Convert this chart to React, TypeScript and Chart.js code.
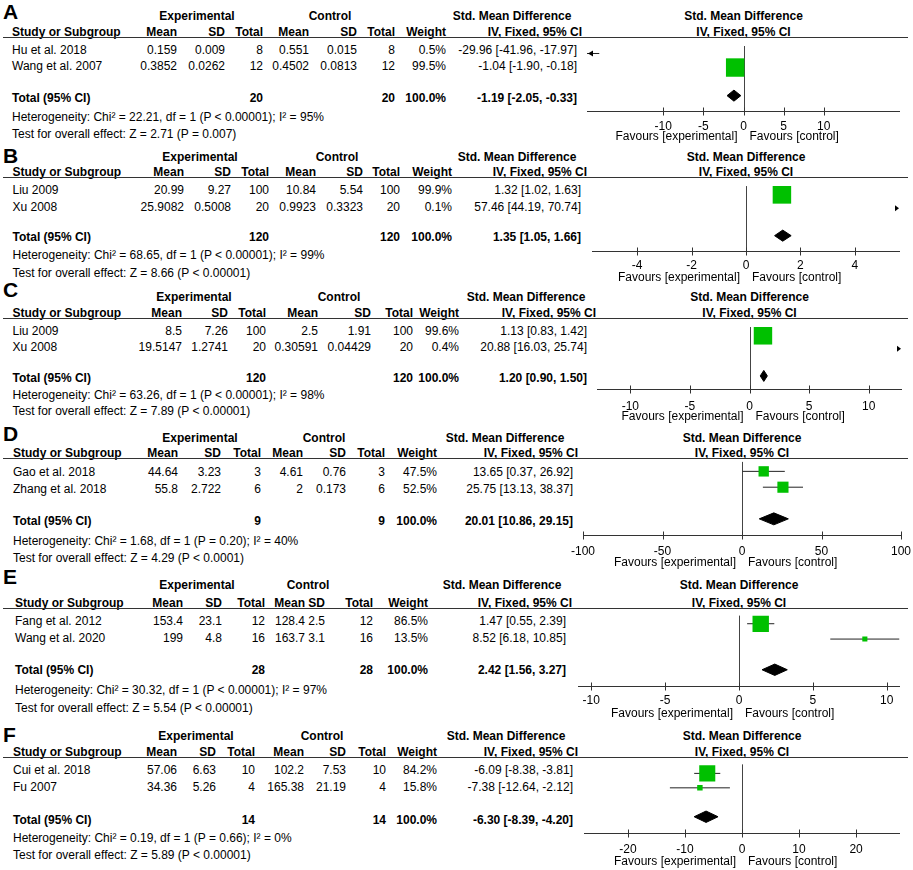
import React, { useEffect, useRef } from "react";
import { Chart, registerables } from "chart.js";
Chart.register(...registerables);

const FONT = '"Liberation Sans", Arial, Helvetica, sans-serif';
const W = 913;
const H = 870;
const GREEN = "#00c000";

// ---------------- DATA ----------------
const panelLetters = ["A", "B", "C", "D", "E", "F"];
const studyNames = [
  ["Hu et al. 2018", "Wang et al. 2007"],
  ["Liu 2009", "Xu 2008"],
  ["Liu 2009", "Xu 2008"],
  ["Gao et al. 2018", "Zhang et al. 2018"],
  ["Fang et al. 2012", "Wang et al. 2020"],
  ["Cui et al. 2018", "Fu 2007"],
];
const expMean = [["0.159", "0.3852"], ["20.99", "25.9082"], ["8.5", "19.5147"], ["44.64", "55.8"], ["153.4", "199"], ["57.06", "34.36"]];
const expSD = [["0.009", "0.0262"], ["9.27", "0.5008"], ["7.26", "1.2741"], ["3.23", "2.722"], ["23.1", "4.8"], ["6.63", "5.26"]];
const expN = [[8, 12], [100, 20], [100, 20], [3, 6], [12, 16], [10, 4]];
const ctlMean = [["0.551", "0.4502"], ["10.84", "0.9923"], ["2.5", "0.30591"], ["4.61", "2"], ["128.4", "163.7"], ["102.2", "165.38"]];
const ctlSD = [["0.015", "0.0813"], ["5.54", "0.3323"], ["1.91", "0.04429"], ["0.76", "0.173"], ["2.5", "3.1"], ["7.53", "21.19"]];
const ctlN = [[8, 12], [100, 20], [100, 20], [3, 6], [12, 16], [10, 4]];
const weights = [[0.5, 99.5], [99.9, 0.1], [99.6, 0.4], [47.5, 52.5], [86.5, 13.5], [84.2, 15.8]];
const smd = [[-29.96, -1.04], [1.32, 57.46], [1.13, 20.88], [13.65, 25.75], [1.47, 8.52], [-6.09, -7.38]];
const ciLow = [[-41.96, -1.9], [1.02, 44.19], [0.83, 16.03], [0.37, 13.13], [0.55, 6.18], [-8.38, -12.64]];
const ciHigh = [[-17.97, -0.18], [1.63, 70.74], [1.42, 25.74], [26.92, 38.37], [2.39, 10.85], [-3.81, -2.12]];
const totalSmd = [-1.19, 1.35, 1.2, 20.01, 2.42, -6.3];
const totalLow = [-2.05, 1.05, 0.9, 10.86, 1.56, -8.39];
const totalHigh = [-0.33, 1.66, 1.5, 29.15, 3.27, -4.2];
const heterogeneity = [
  "Heterogeneity: Chi² = 22.21, df = 1 (P < 0.00001); I² = 95%",
  "Heterogeneity: Chi² = 68.65, df = 1 (P < 0.00001); I² = 99%",
  "Heterogeneity: Chi² = 63.26, df = 1 (P < 0.00001); I² = 98%",
  "Heterogeneity: Chi² = 1.68, df = 1 (P = 0.20); I² = 40%",
  "Heterogeneity: Chi² = 30.32, df = 1 (P < 0.00001); I² = 97%",
  "Heterogeneity: Chi² = 0.19, df = 1 (P = 0.66); I² = 0%",
];
const overallEffect = [
  "Test for overall effect: Z = 2.71 (P = 0.007)",
  "Test for overall effect: Z = 8.66 (P < 0.00001)",
  "Test for overall effect: Z = 7.89 (P < 0.00001)",
  "Test for overall effect: Z = 4.29 (P < 0.0001)",
  "Test for overall effect: Z = 5.54 (P < 0.00001)",
  "Test for overall effect: Z = 5.89 (P < 0.00001)",
];
const axisLimit = [19.5, 5.66, 12.8, 100, 10.9, 27.7];
const axisTicks = [
  [-10, -5, 0, 5, 10],
  [-4, -2, 0, 2, 4],
  [-10, -5, 0, 5, 10],
  [-100, -50, 0, 50, 100],
  [-10, -5, 0, 5, 10],
  [-20, -10, 0, 10, 20],
];
const studyRows = [1, 2];
const totalRow = 4;

// ---------------- LAYOUT (pixel positions of each panel) ----------------
const LAYOUT = [
  { letter: 11, exp: 16, h2: 32, line: 37, r1: 50, r2: 66, tot: 97.5, het: 116.5, test: 133.5, axis: 111, tl: 123, fav: 137, m1: 45.5, mt: 93.5, left: 587, right: 900, sx: 12, cols: [177, 225, 263, 309, 357, 395, 446], ci: 577, iv: 582, expC: 197, ctlC: 330, smdC: 512 },
  { letter: 155.5, exp: 157, h2: 172, line: 177, r1: 189.5, r2: 206.7, tot: 237.3, het: 255, test: 273, axis: 251, tl: 262, fav: 278, m1: 186.5, mt: 233.5, left: 592, right: 900, sx: 12.5, cols: [184, 231, 269, 316, 363, 400, 452], ci: 581, iv: 587, expC: 200, ctlC: 337, smdC: 517 },
  { letter: 289.5, exp: 297, h2: 313, line: 318, r1: 331, r2: 347, tot: 378, het: 395, test: 411, axis: 389, tl: 403, fav: 417, m1: 327.5, mt: 374, left: 597, right: 902, sx: 12.5, cols: [182, 228, 266, 318, 371, 413, 459], ci: 587, iv: 596, expC: 194, ctlC: 339, smdC: 526 },
  { letter: 433.5, exp: 438, h2: 453, line: 458, r1: 472, r2: 489, tot: 521, het: 541, test: 558, axis: 535, tl: 548, fav: 563, m1: 468, mt: 518, left: 583, right: 901, sx: 13, cols: [178, 221, 261, 303, 346, 385, 437], ci: 573, iv: 578, expC: 200, ctlC: 324, smdC: 505 },
  { letter: 576.5, exp: 585, h2: 603, line: 608, r1: 621, r2: 638, tot: 670, het: 690, test: 708, axis: 686, tl: 697, fav: 714, m1: 617, mt: 668, left: 578, right: 900, sx: 15, cols: [183, 222, 265, 305, 325, 373, 428], ci: 566, iv: 572, expC: 197, ctlC: 308, smdC: 502 },
  { letter: 734.5, exp: 736, h2: 752, line: 757, r1: 770, r2: 787, tot: 820, het: 838, test: 855, axis: 833, tl: 846, fav: 862, m1: 767, mt: 815, left: 584, right: 900, sx: 13, cols: [177, 216, 255, 304, 346, 386, 437], ci: 573, iv: 578, expC: 196, ctlC: 322, smdC: 506 },
];

const PAD_X = 24;
const PAD_TOP = 4;
const AXIS_H = 36;

function fmt2(v: number) {
  return v.toFixed(2);
}
function ciText(e: number, l: number, h: number) {
  return `${fmt2(e)} [${fmt2(l)}, ${fmt2(h)}]`;
}
function squareSide(w: number) {
  return 3 + 0.155 * w;
}

function Txt({ x, y, text, align = "left", bold = false, size = 12 }: any) {
  const style: any = {
    position: "absolute",
    top: y - 0.4885 * size,
    fontFamily: FONT,
    fontSize: size,
    fontWeight: bold ? "bold" : "normal",
    lineHeight: `${size}px`,
    whiteSpace: "nowrap",
    color: "#000",
  };
  if (align === "left") style.left = x;
  else if (align === "right") style.right = W - x;
  else {
    style.left = x;
    style.transform = "translateX(-50%)";
  }
  return <div style={style}>{text}</div>;
}

const decorPlugin = {
  id: "forestDecor",
  beforeDatasetsDraw(chart: any) {
    const { ctx, chartArea, scales } = chart;
    const x0 = Math.round(scales.x.getPixelForValue(0)) + 0.5;
    ctx.save();
    ctx.strokeStyle = "#444";
    ctx.lineWidth = 1;
    ctx.beginPath();
    ctx.moveTo(x0, chartArea.top);
    ctx.lineTo(x0, chartArea.bottom);
    ctx.stroke();
    ctx.restore();
  },
  afterDraw(chart: any) {
    const { ctx, chartArea, scales } = chart;
    const opts = chart.options.plugins.forestDecor;
    const xs = scales.x;
    const ys = scales.y;
    ctx.save();
    const by = Math.round(chartArea.bottom) + 0.5;
    // axis line
    ctx.strokeStyle = "#333";
    ctx.lineWidth = 1;
    ctx.beginPath();
    ctx.moveTo(chartArea.left, by);
    ctx.lineTo(chartArea.right, by);
    ctx.stroke();
    // tick crosses
    xs.ticks.forEach((t: any) => {
      const px = Math.round(xs.getPixelForValue(t.value)) + 0.5;
      ctx.beginPath();
      ctx.moveTo(px, by - 4);
      ctx.lineTo(px, by + 4);
      ctx.stroke();
    });
    // off-scale arrowheads
    ctx.fillStyle = "#000";
    opts.lows.forEach((lo: number, j: number) => {
      const hi = opts.highs[j];
      const py = ys.getPixelForValue(opts.rows[j]);
      if (lo < xs.min) {
        const px = chartArea.left + 1;
        ctx.beginPath();
        ctx.moveTo(px, py);
        ctx.lineTo(px + 5, py - 3);
        ctx.lineTo(px + 5, py + 3);
        ctx.closePath();
        ctx.fill();
      }
      if (hi > xs.max) {
        const px = chartArea.right - 1;
        ctx.beginPath();
        ctx.moveTo(px, py);
        ctx.lineTo(px - 4, py - 3);
        ctx.lineTo(px - 4, py + 3);
        ctx.closePath();
        ctx.fill();
      }
    });
    // favours labels
    const x0 = xs.getPixelForValue(0);
    ctx.font = `12px ${FONT}`;
    ctx.fillStyle = "#000";
    ctx.textBaseline = "middle";
    const fy = chartArea.bottom + opts.favOffset;
    ctx.textAlign = "right";
    ctx.fillText("Favours [experimental]", x0 - 6, fy);
    ctx.textAlign = "left";
    ctx.fillText("Favours [control]", x0 + 6, fy);
    ctx.restore();
  },
};

function ForestPlot({ i }: { i: number }) {
  const ref = useRef<HTMLCanvasElement>(null);
  const L = LAYOUT[i];
  const width = L.right - L.left + 2 * PAD_X;
  const height = L.axis - L.line + PAD_TOP + AXIS_H;

  useEffect(() => {
    if (!ref.current) return;
    const k = (L.mt - L.m1) / (totalRow - studyRows[0]);
    const yMin = studyRows[0] - (L.m1 - L.line) / k;
    const yMax = yMin + (L.axis - L.line) / k;
    const lim = axisLimit[i];
    const dh = 6.3 / k;

    const datasets: any[] = [];
    // index 0 is drawn on top: study squares
    datasets.push({
      data: studyRows.map((row, j) => ({ x: smd[i][j], y: row })),
      showLine: false,
      pointStyle: "rect",
      pointRadius: weights[i].map((w) => squareSide(w) / Math.SQRT2),
      pointBackgroundColor: GREEN,
      pointBorderColor: GREEN,
      pointBorderWidth: 0,
    });
    // pooled diamond (upper and lower edges, filled between)
    datasets.push({
      data: [
        { x: totalLow[i], y: totalRow },
        { x: totalSmd[i], y: totalRow - dh },
        { x: totalHigh[i], y: totalRow },
      ],
      borderColor: "#000",
      borderWidth: 1,
      pointRadius: 0,
      tension: 0,
      fill: false,
    });
    datasets.push({
      data: [
        { x: totalLow[i], y: totalRow },
        { x: totalSmd[i], y: totalRow + dh },
        { x: totalHigh[i], y: totalRow },
      ],
      borderColor: "#000",
      backgroundColor: "#000",
      borderWidth: 1,
      pointRadius: 0,
      tension: 0,
      fill: "-1",
    });
    // confidence-interval whiskers
    studyRows.forEach((row, j) => {
      datasets.push({
        data: [
          { x: ciLow[i][j], y: row },
          { x: ciHigh[i][j], y: row },
        ],
        borderColor: "#222",
        borderWidth: 1,
        pointRadius: 0,
        fill: false,
      });
    });

    const chart = new Chart(ref.current, {
      type: "line",
      data: { datasets },
      plugins: [decorPlugin],
      options: {
        responsive: false,
        animation: false,
        events: [],
        layout: { padding: { left: PAD_X, right: PAD_X, top: PAD_TOP, bottom: 0 } },
        plugins: {
          legend: { display: false },
          tooltip: { enabled: false },
          forestDecor: {
            lows: ciLow[i],
            highs: ciHigh[i],
            rows: studyRows,
            favOffset: L.fav - L.axis,
          },
        } as any,
        scales: {
          x: {
            type: "linear",
            min: -lim,
            max: lim,
            afterBuildTicks: (axis: any) => {
              axis.ticks = axisTicks[i].map((v) => ({ value: v }));
            },
            afterFit: (axis: any) => {
              axis.height = AXIS_H;
            },
            ticks: {
              autoSkip: false,
              maxRotation: 0,
              padding: L.tl - L.axis - 12,
              color: "#000",
              font: { family: FONT, size: 12 },
              callback: (v: any) => String(v),
            },
            grid: { display: false },
            border: { display: false },
          },
          y: {
            type: "linear",
            reverse: true,
            min: yMin,
            max: yMax,
            display: false,
          },
        },
      } as any,
    });
    return () => chart.destroy();
  }, [i]);

  return (
    <canvas
      ref={ref}
      width={width}
      height={height}
      style={{
        position: "absolute",
        left: L.left - PAD_X,
        top: L.line - PAD_TOP,
        width,
        height,
        display: "block",
      }}
    />
  );
}

function Panel({ i }: { i: number }) {
  const L = LAYOUT[i];
  const zeroX = (L.left + L.right) / 2;
  const rowsY = [L.r1, L.r2];
  const els: any[] = [];
  els.push(<Txt key="letter" x={3} y={L.letter} size={21} bold text={panelLetters[i]} />);
  els.push(<Txt key="hexp" x={L.expC} y={L.exp} align="center" bold text="Experimental" />);
  els.push(<Txt key="hctl" x={L.ctlC} y={L.exp} align="center" bold text="Control" />);
  els.push(<Txt key="hsmd" x={L.smdC} y={L.exp} align="center" bold text="Std. Mean Difference" />);
  els.push(<Txt key="hsmd2" x={zeroX} y={L.exp} align="center" bold text="Std. Mean Difference" />);
  els.push(<Txt key="hstudy" x={L.sx} y={L.h2} bold text="Study or Subgroup" />);
  ["Mean", "SD", "Total", "Mean", "SD", "Total", "Weight"].forEach((h, c) =>
    els.push(<Txt key={"h2" + c} x={L.cols[c]} y={L.h2} align="right" bold text={h} />)
  );
  els.push(<Txt key="hiv" x={L.iv} y={L.h2} align="right" bold text="IV, Fixed, 95% CI" />);
  els.push(<Txt key="hiv2" x={zeroX} y={L.h2} align="center" bold text="IV, Fixed, 95% CI" />);
  els.push(
    <div
      key="hline"
      style={{ position: "absolute", left: 3, top: L.line, width: 905, height: 1, background: "#333" }}
    />
  );
  studyNames[i].forEach((name, j) => {
    const y = rowsY[j];
    const vals = [
      expMean[i][j],
      expSD[i][j],
      String(expN[i][j]),
      ctlMean[i][j],
      ctlSD[i][j],
      String(ctlN[i][j]),
      weights[i][j].toFixed(1) + "%",
    ];
    els.push(<Txt key={"n" + j} x={L.sx} y={y} text={name} />);
    vals.forEach((v, c) => els.push(<Txt key={"v" + j + "_" + c} x={L.cols[c]} y={y} align="right" text={v} />));
    els.push(
      <Txt key={"ci" + j} x={L.ci} y={y} align="right" text={ciText(smd[i][j], ciLow[i][j], ciHigh[i][j])} />
    );
  });
  const expTot = expN[i].reduce((a, b) => a + b, 0);
  const ctlTot = ctlN[i].reduce((a, b) => a + b, 0);
  const wTot = weights[i].reduce((a, b) => a + b, 0);
  els.push(<Txt key="tot" x={L.sx} y={L.tot} bold text="Total (95% CI)" />);
  els.push(<Txt key="tot1" x={L.cols[2]} y={L.tot} align="right" bold text={String(expTot)} />);
  els.push(<Txt key="tot2" x={L.cols[5]} y={L.tot} align="right" bold text={String(ctlTot)} />);
  els.push(<Txt key="tot3" x={L.cols[6]} y={L.tot} align="right" bold text={wTot.toFixed(1) + "%"} />);
  els.push(
    <Txt key="tot4" x={L.ci} y={L.tot} align="right" bold text={ciText(totalSmd[i], totalLow[i], totalHigh[i])} />
  );
  els.push(<Txt key="het" x={L.sx} y={L.het} text={heterogeneity[i]} />);
  els.push(<Txt key="test" x={L.sx} y={L.test} text={overallEffect[i]} />);
  return (
    <>
      {els}
      <ForestPlot i={i} />
    </>
  );
}

export default function App() {
  return (
    <div
      style={{
        position: "absolute",
        left: 0,
        top: 0,
        width: W,
        height: H,
        background: "#fff",
        overflow: "hidden",
      }}
    >
      {panelLetters.map((_, i) => (
        <Panel key={i} i={i} />
      ))}
    </div>
  );
}
